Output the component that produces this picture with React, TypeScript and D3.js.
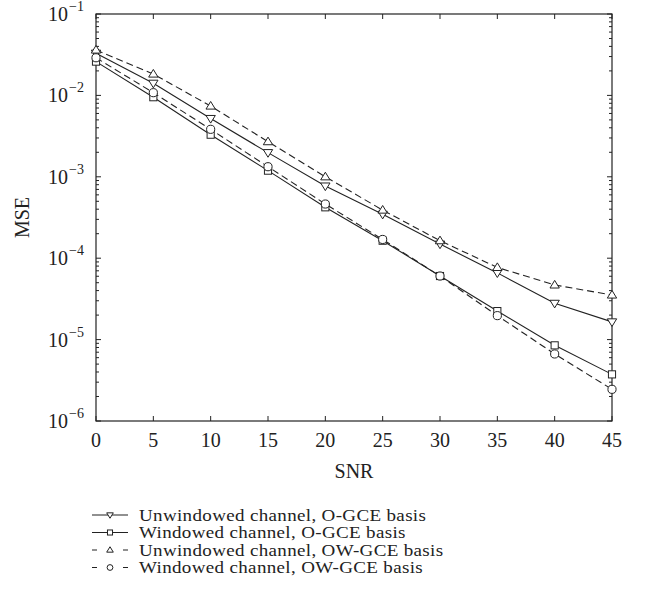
import React from "react";
import * as d3 from "d3";

const snr = [0, 5, 10, 15, 20, 25, 30, 35, 40, 45];
const unwindowedOGCE = [0.033, 0.0141, 0.0052, 0.00198, 0.00077, 0.000346, 0.000149, 0.000066, 0.0000279, 0.0000165];
const windowedOGCE = [0.026, 0.0095, 0.00329, 0.00119, 0.000422, 0.000164, 0.0000604, 0.0000224, 0.0000085, 0.00000374];
const unwindowedOWGCE = [0.0361, 0.0183, 0.0074, 0.0027, 0.001, 0.00039, 0.000164, 0.000077, 0.0000469, 0.0000353];
const windowedOWGCE = [0.029, 0.0108, 0.00383, 0.00133, 0.000463, 0.00017, 0.0000604, 0.0000197, 0.00000666, 0.00000245];
const xTicks = [0, 5, 10, 15, 20, 25, 30, 35, 40, 45];
const yExponents = [-1, -2, -3, -4, -5, -6];
const seriesNames = [
  "Unwindowed channel, O-GCE basis",
  "Windowed channel, O-GCE basis",
  "Unwindowed channel, OW-GCE basis",
  "Windowed channel, OW-GCE basis",
];

type Marker = "tdown" | "square" | "tup" | "circle";
const series: { name: string; values: number[]; dashed: boolean; marker: Marker }[] = [
  { name: seriesNames[0], values: unwindowedOGCE, dashed: false, marker: "tdown" },
  { name: seriesNames[1], values: windowedOGCE, dashed: false, marker: "square" },
  { name: seriesNames[2], values: unwindowedOWGCE, dashed: true, marker: "tup" },
  { name: seriesNames[3], values: windowedOWGCE, dashed: true, marker: "circle" },
];

const INK = "#222";
const FONT = "'Liberation Serif', 'DejaVu Serif', serif";

function MarkerShape({ type, x, y, s }: { type: Marker; x: number; y: number; s: number }) {
  const common = { fill: "white", stroke: INK, strokeWidth: 1 };
  if (type === "square") return <rect x={x - s * 0.42} y={y - s * 0.42} width={s * 0.84} height={s * 0.84} {...common} />;
  if (type === "circle") return <circle cx={x} cy={y} r={s * 0.48} {...common} />;
  const h = s * 0.9;
  const w = s * 0.55;
  if (type === "tup")
    return <path d={`M${x},${y - h * 0.6}L${x + w},${y + h * 0.4}L${x - w},${y + h * 0.4}Z`} {...common} />;
  return <path d={`M${x},${y + h * 0.6}L${x + w},${y - h * 0.4}L${x - w},${y - h * 0.4}Z`} {...common} />;
}

export default function App() {
  const W = 648, H = 601;
  const L = 96, R = 612, T = 14, B = 421;
  const x = d3.scaleLinear().domain([0, 45]).range([L, R]);
  const y = d3.scaleLog().domain([1e-6, 1e-1]).range([B, T]);
  const line = d3.line<number>().x((_, i) => x(snr[i])).y((v) => y(v));

  const minor: number[] = [];
  for (let e = -6; e < -1; e++) for (let k = 2; k <= 9; k++) minor.push(k * Math.pow(10, e));

  return (
    <svg width={W} height={H} style={{ position: "absolute", left: 0, top: 0, background: "white" }}>
      <rect x={0} y={0} width={W} height={H} fill="white" />
      {xTicks.map((t) => (
        <g key={"xt" + t}>
          <line x1={x(t)} x2={x(t)} y1={B} y2={B - 5} stroke={INK} />
          <line x1={x(t)} x2={x(t)} y1={T} y2={T + 5} stroke={INK} />
          <text x={x(t)} y={447} textAnchor="middle" fontFamily={FONT} fontSize={20} fill={INK}>{t}</text>
        </g>
      ))}
      {yExponents.map((e) => (
        <g key={"yt" + e}>
          <line x1={L} x2={L + 5} y1={y(Math.pow(10, e))} y2={y(Math.pow(10, e))} stroke={INK} />
          <line x1={R} x2={R - 5} y1={y(Math.pow(10, e))} y2={y(Math.pow(10, e))} stroke={INK} />
          <text x={68} y={y(Math.pow(10, e)) + 7} textAnchor="end" fontFamily={FONT} fontSize={20} fill={INK}>10</text>
          <text x={69} y={y(Math.pow(10, e)) - 3} textAnchor="start" fontFamily={FONT} fontSize={14} fill={INK}>{"\u2212" + Math.abs(e)}</text>
        </g>
      ))}
      {minor.map((m, i) => (
        <g key={"mn" + i}>
          <line x1={L} x2={L + 3} y1={y(m)} y2={y(m)} stroke={INK} />
          <line x1={R} x2={R - 3} y1={y(m)} y2={y(m)} stroke={INK} />
        </g>
      ))}
      <rect x={L} y={T} width={R - L} height={B - T} fill="none" stroke={INK} strokeWidth={1.2} />
      {series.map((s) => (
        <path key={s.name} d={line(s.values) || ""} fill="none" stroke={INK} strokeWidth={1.1} strokeDasharray={s.dashed ? "7,4" : undefined} />
      ))}
      {series.map((s) =>
        s.values.map((v, i) => <MarkerShape key={s.name + i} type={s.marker} x={x(snr[i])} y={y(v)} s={8.5} />)
      )}
      <text x={(L + R) / 2} y={478} textAnchor="middle" fontFamily={FONT} fontSize={20} fill={INK}>SNR</text>
      <text transform={`translate(29,${(T + B) / 2}) rotate(-90)`} textAnchor="middle" fontFamily={FONT} fontSize={20} fill={INK}>MSE</text>
      {series.map((s, i) => {
        const ly = 515 + i * 17.5;
        return (
          <g key={"lg" + i}>
            <line x1={92} x2={128} y1={ly} y2={ly} stroke={INK} strokeWidth={1.1} strokeDasharray={s.dashed ? "5,26,5" : undefined} />
            <MarkerShape type={s.marker} x={110} y={ly} s={6} />
            <text transform={`translate(139,${ly + 5.5}) scale(1.12,1)`} fontFamily={FONT} fontSize={17} letterSpacing={0.3} fill={INK}>{s.name}</text>
          </g>
        );
      })}
    </svg>
  );
}
